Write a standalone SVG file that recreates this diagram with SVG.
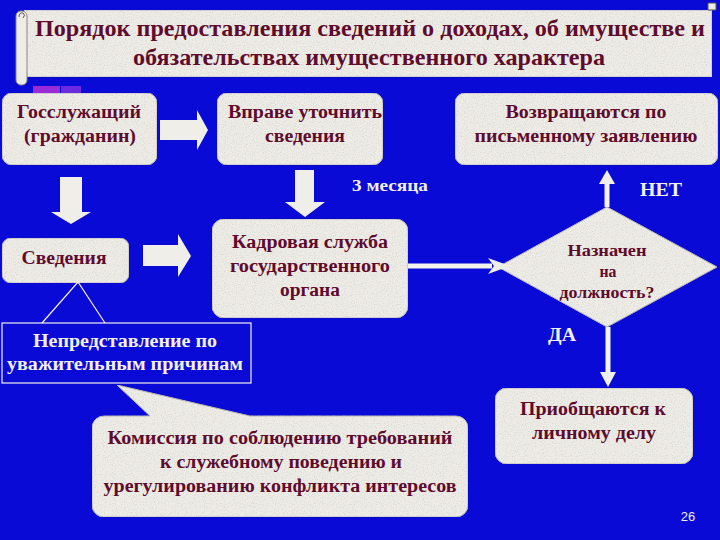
<svg xmlns="http://www.w3.org/2000/svg" width="720" height="540" viewBox="0 0 720 540">
<defs>
<filter id="granite" x="0" y="0" width="100%" height="100%">
  <feTurbulence type="fractalNoise" baseFrequency="0.9" numOctaves="2" seed="3" result="n"/>
  <feColorMatrix in="n" type="matrix" values="0 0 0 0 0.6  0 0 0 0 0.58  0 0 0 0 0.55  0 0 0 -1.6 0.85" result="s"/>
  <feComposite in="s" in2="SourceGraphic" operator="in" result="sp"/>
  <feMerge><feMergeNode in="SourceGraphic"/><feMergeNode in="sp"/></feMerge>
</filter>
</defs>
<style>
.bg{fill:#0A0AD6}
.box{fill:#EEECE6;stroke:#B8B4AC;stroke-width:1;filter:url(#granite)}
.t{font-family:"Liberation Serif","Times New Roman",serif;font-weight:bold;fill:#5E0B2C;text-anchor:middle;font-size:18px}
.w{font-family:"Liberation Serif","Times New Roman",serif;font-weight:bold;fill:#F2F0EA;text-anchor:middle;font-size:18px}
.blk{fill:#F0EEE8}
.ln{stroke:#F4F2EC;stroke-width:5;fill:none}
.thin{stroke:#F4F2EC;stroke-width:1.2;fill:none}
</style>
<rect class="bg" x="0" y="0" width="720" height="540"/>

<g id="title">
  <rect class="box" x="24" y="10" width="688" height="67" stroke="#8A8880"/>
  <rect x="16" y="11" width="11" height="74" rx="5" fill="#EEECE6" stroke="#8A8880" stroke-width="1"/>
  <path d="M19 17 q0 -5 4 -4 q3 2 0 5" fill="none" stroke="#555" stroke-width="1"/>
  <path d="M708 3 h8 v7 h-8 z" fill="#EEECE6" stroke="#555" stroke-width="1"/>
  <rect x="33" y="86" width="27" height="7" fill="#9A2BD8"/>
  <rect x="61" y="86" width="20" height="7" fill="#6A2BE0"/>
  <text class="t" x="370" y="36" style="font-size:23px" textLength="670" lengthAdjust="spacingAndGlyphs">Порядок предоставления сведений о доходах, об имуществе и</text>
  <text class="t" x="369" y="65" style="font-size:23px" textLength="472" lengthAdjust="spacingAndGlyphs">обязательствах имущественного характера</text>
</g>

<g id="gossluzh">
  <rect class="box" x="2" y="93" width="155" height="72" rx="10"/>
  <text class="t" x="79" y="118" textLength="124" lengthAdjust="spacingAndGlyphs">Госслужащий</text>
  <text class="t" x="80" y="142" textLength="112" lengthAdjust="spacingAndGlyphs">(гражданин)</text>
</g>

<g id="vprave">
  <rect class="box" x="217" y="93" width="166" height="72" rx="10"/>
  <text class="t" x="305" y="118" textLength="154" lengthAdjust="spacingAndGlyphs">Вправе уточнить</text>
  <text class="t" x="305" y="142" textLength="80" lengthAdjust="spacingAndGlyphs">сведения</text>
</g>

<g id="vozvr">
  <rect class="box" x="455" y="93" width="263" height="72" rx="10"/>
  <text class="t" x="586" y="118" textLength="161" lengthAdjust="spacingAndGlyphs">Возвращаются по</text>
  <text class="t" x="586" y="142" textLength="223" lengthAdjust="spacingAndGlyphs">письменному заявлению</text>
</g>

<g id="svedeniya">
  <rect class="box" x="2" y="238" width="127" height="45" rx="9"/>
  <text class="t" x="64" y="264" textLength="85" lengthAdjust="spacingAndGlyphs">Сведения</text>
</g>

<g id="kadrovaya">
  <rect class="box" x="212" y="219" width="196" height="99" rx="12"/>
  <text class="t" x="310" y="248" textLength="156" lengthAdjust="spacingAndGlyphs">Кадровая служба</text>
  <text class="t" x="310" y="272" textLength="160" lengthAdjust="spacingAndGlyphs">государственного</text>
  <text class="t" x="310" y="296" textLength="60" lengthAdjust="spacingAndGlyphs">органа</text>
</g>

<g id="naznachen">
  <polygon class="box" points="498,267 607,207 717,267 607,327"/>
  <text class="t" x="607" y="256" style="font-size:16px" textLength="79" lengthAdjust="spacingAndGlyphs">Назначен</text>
  <text class="t" x="608" y="277" style="font-size:16px" textLength="17" lengthAdjust="spacingAndGlyphs">на</text>
  <text class="t" x="607" y="298" style="font-size:16px" textLength="95" lengthAdjust="spacingAndGlyphs">должность?</text>
</g>

<g id="prioshch">
  <rect class="box" x="495" y="388" width="198" height="76" rx="12"/>
  <text class="t" x="593" y="415" textLength="146" lengthAdjust="spacingAndGlyphs">Приобщаются к</text>
  <text class="t" x="594" y="439" textLength="124" lengthAdjust="spacingAndGlyphs">личному делу</text>
</g>

<g id="neprestavl">
  <rect x="2" y="323" width="249" height="60" fill="#0A0AD6" stroke="#F4F2EC" stroke-width="1.2"/>
  <text class="w" x="125" y="347" textLength="184" lengthAdjust="spacingAndGlyphs">Непредставление по</text>
  <text class="w" x="125" y="370" textLength="236" lengthAdjust="spacingAndGlyphs">уважительным причинам</text>
</g>

<g id="komissiya">
  <path class="box" d="M104 416 H150 L117 385 L250 416 H456 a12 12 0 0 1 12 12 V505 a12 12 0 0 1 -12 12 H104 a12 12 0 0 1 -12 -12 V428 a12 12 0 0 1 12 -12 Z"/>
  <text class="t" x="280" y="444" textLength="345" lengthAdjust="spacingAndGlyphs">Комиссия по соблюдению требований</text>
  <text class="t" x="281" y="468" textLength="242" lengthAdjust="spacingAndGlyphs">к служебному поведению и</text>
  <text class="t" x="280" y="492" textLength="353" lengthAdjust="spacingAndGlyphs">урегулированию конфликта интересов</text>
</g>

<g id="connectors">
  <polygon class="blk" points="160,120 197,120 197,110 208,130 197,150 197,140 160,140"/>
  <polygon class="blk" points="60,177 82,177 82,212 91,212 71,224 51,212 60,212"/>
  <polygon class="blk" points="295,170 314,170 314,202 325,202 305,217 285,202 295,202"/>
  <polygon class="blk" points="143,245 178,245 178,234 191,256 178,277 178,266 143,266"/>
  <line class="ln" x1="408" y1="266" x2="492" y2="266"/>
  <polygon class="blk" points="488,258 510,266 488,274 494,266"/>
  <line class="ln" x1="607" y1="207" x2="607" y2="182"/>
  <polygon class="blk" points="599,184 607,170 615,184"/>
  <line class="ln" x1="608" y1="327" x2="608" y2="375"/>
  <polygon class="blk" points="600,372 608,387 616,372"/>
  <polyline class="thin" points="42,323 78,282 105,323"/>
</g>

<text class="w" x="390" y="191" style="font-size:17px" textLength="76" lengthAdjust="spacingAndGlyphs">3 месяца</text>
<text class="w" x="661" y="196" style="font-size:19px" textLength="42" lengthAdjust="spacingAndGlyphs">НЕТ</text>
<text class="w" x="562" y="341" style="font-size:18px" textLength="28" lengthAdjust="spacingAndGlyphs">ДА</text>
<text x="688" y="521" style="font-family:'Liberation Sans',Arial,sans-serif;font-size:13px;fill:#F2F0EA;text-anchor:middle">26</text>
</svg>
